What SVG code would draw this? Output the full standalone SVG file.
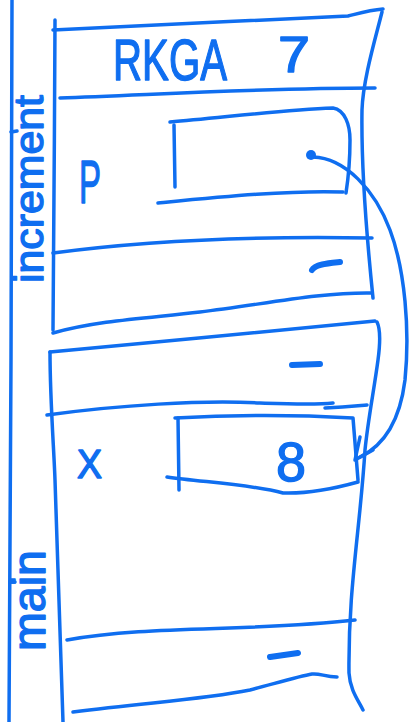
<svg xmlns="http://www.w3.org/2000/svg" width="409" height="722" viewBox="0 0 409 722">
<style>
.s{fill:none;stroke:#0f6ef0;stroke-width:3.5;stroke-linecap:round;stroke-linejoin:round}
.d{fill:none;stroke:#0f6ef0;stroke-width:6;stroke-linecap:round}
.t{fill:#0f6ef0;stroke:#0f6ef0;stroke-width:1.4;stroke-linejoin:round;font-family:"Liberation Sans",Arial,sans-serif}
</style>
<rect width="409" height="722" fill="#fff"/>
<g id="axis">
<path class="s" d="M12,0 L11,360 L9,722"/>
<path class="s" d="M11,132 L17,131 M10,582 L15,582" stroke-width="2"/>
<text class="t" font-size="41" transform="translate(43,283) rotate(-90)" textLength="188" lengthAdjust="spacingAndGlyphs">increment</text>
<text class="t" font-size="46" transform="translate(45,651) rotate(-90)" textLength="101" lengthAdjust="spacingAndGlyphs">main</text>
</g>
<g id="frame-increment">
<path class="s" d="M53,30 C150,26 250,20 348,16 C360,13 370,10 383,9"/>
<path class="s" d="M55,20 C55,120 53,250 53,330"/>
<path class="s" d="M60,98 C150,95 260,88 375,88"/>
<path class="s" d="M382,12 C375,40 363,80 362,110 C361,170 366,230 373,298"/>
<text class="t" x="113" y="80" font-size="58" textLength="114" lengthAdjust="spacingAndGlyphs">RKGA</text>
<text class="t" x="278" y="72" font-size="50" textLength="32" lengthAdjust="spacingAndGlyphs">7</text>
<g id="var-p">
<text class="t" x="79" y="203" font-size="62" textLength="22" lengthAdjust="spacingAndGlyphs">P</text>
<path class="s" d="M170,122 C220,118 280,110 333,108 C345,110 350,125 350,140 C350,160 348,180 346,193"/>
<path class="s" d="M158,203 C220,197 290,190 343,192"/>
<path class="s" d="M174,125 L175,187"/>
<circle cx="311" cy="155" r="5" fill="#0f6ef0"/>
</g>
<path class="s" d="M53,253 C150,240 260,236 372,238"/>
<path class="d" d="M312,270 C315,264 330,263 340,262"/>
<path class="s" d="M53,333 C100,320 150,318 200,312 C260,305 320,292 372,293"/>
</g>
<g id="frame-main">
<path class="s" d="M50,352 C150,343 280,330 375,321"/>
<path class="s" d="M377,322 C381,330 380,345 378,360 C374,390 368,420 365,450 C360,530 348,590 349,673 C350,690 358,700 363,710"/>
<path class="s" d="M50,352 C50,400 54,450 55,480 C58,560 60,650 63,722"/>
<path class="d" d="M292,365 L320,364"/>
<path class="s" d="M47,415 C120,405 200,400 260,403 C290,404 315,405 333,403 M325,408 C345,407 355,406 367,405"/>
<g id="var-x">
<text class="t" x="77" y="478" font-size="40" textLength="25" lengthAdjust="spacingAndGlyphs">X</text>
<path class="s" d="M175,418 C230,415 300,415 353,418 L358,480"/>
<path class="s" d="M167,477 C200,482 250,484 283,493 C310,494 340,487 358,482"/>
<path class="s" d="M178,418 L179,490"/>
<text class="t" x="276" y="481" font-size="56" textLength="30" lengthAdjust="spacingAndGlyphs">8</text>
</g>
<path class="s" d="M67,640 C150,625 250,632 355,620"/>
<path class="d" d="M270,657 L298,653"/>
<path class="s" d="M73,712 C150,702 200,700 250,690 C280,682 300,676 312,674 C320,673 325,677 337,677"/>
</g>
<g id="connectors">
<path class="s" stroke-width="4" d="M313,157 C345,158 375,190 390,230 C405,270 410,330 405,380 C400,420 385,445 360,457"/>
<path class="s" stroke-width="5.5" d="M360,437 L355,460 L373,450"/>
</g>
</svg>
